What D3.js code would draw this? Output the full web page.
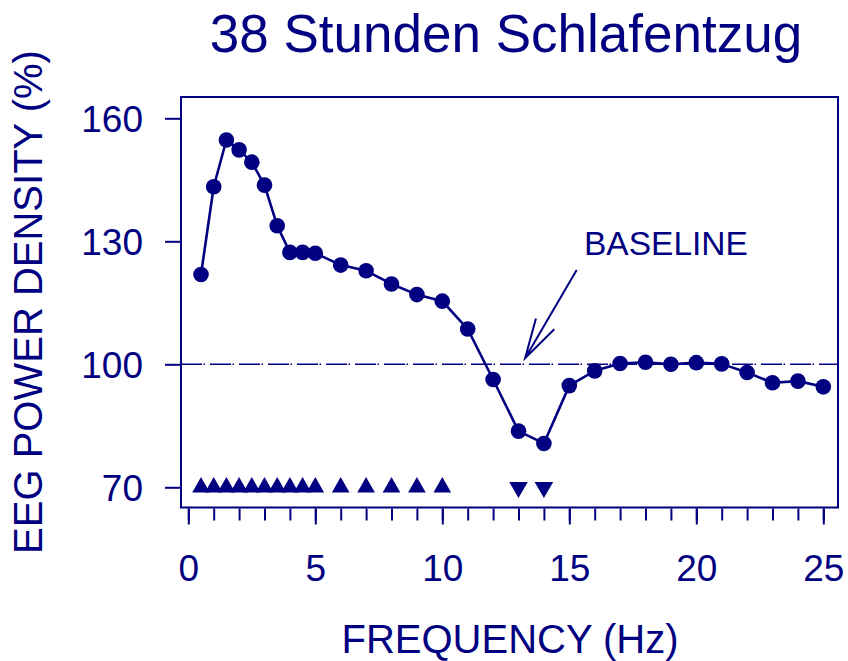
<!DOCTYPE html>
<html>
<head>
<meta charset="utf-8">
<script src="https://cdn.jsdelivr.net/npm/d3@7"></script>
<style>
  html, body { margin: 0; padding: 0; background: #fff; }
  svg { display: block; font-family: "Liberation Sans", Arial, Helvetica, sans-serif; }
</style>
</head>
<body>
<svg id="chart" width="848" height="661"></svg>
<script>
// Spectral EEG power after 38 h of sleep deprivation, relative to baseline (=100 %)
const frequencies = [0.5, 1, 1.5, 2, 2.5, 3, 3.5, 4, 4.5, 5,
                     6, 7, 8, 9, 10, 11, 12, 13, 14, 15,
                     16, 17, 18, 19, 20, 21, 22, 23, 24, 25];
const powerDensity = [121.9, 143.3, 154.7, 152.3, 149.3, 143.7, 133.8, 127.3, 127.3, 127.1,
                      124.2, 122.8, 119.6, 117.0, 115.4, 108.6, 96.3, 83.7, 80.7, 94.8,
                      98.4, 100.2, 100.5, 100.0, 100.4, 100.1, 98.0, 95.5, 95.9, 94.5];
// Frequency bins with significant increase (up) or decrease (down)
const sigIncrease = [0.5, 1, 1.5, 2, 2.5, 3, 3.5, 4, 4.5, 5, 6, 7, 8, 9, 10];
const sigDecrease = [13, 14];
const sigLevel = 70;
const baselineValue = 100;

const xTicks = [0, 5, 10, 15, 20, 25];
const xMinorTicks = d3.range(0, 26, 1);
const yTicks = [70, 100, 130, 160];

const titleText = "38 Stunden Schlafentzug";
const xLabel = "FREQUENCY (Hz)";
const yLabel = "EEG POWER DENSITY (%)";
const noteText = "BASELINE";

const ink = "#000080";
const svg = d3.select("#chart");

// plot frame in pixels
const frame = { left: 181, right: 838, top: 97, bottom: 507.5 };

const x = d3.scaleLinear().domain([0, 25]).range([188.3, 823.3]);
const y = d3.scaleLinear().domain([70, 160]).range([487.3, 118.3]);

// frame
svg.append("rect")
  .attr("x", frame.left).attr("y", frame.top)
  .attr("width", frame.right - frame.left)
  .attr("height", frame.bottom - frame.top)
  .attr("fill", "none").attr("stroke", ink).attr("stroke-width", 2);

// x axis ticks and labels
const xAxisG = svg.append("g").attr("transform", `translate(0,${frame.bottom + 1})`);
xAxisG.call(d3.axisBottom(x).tickValues(xMinorTicks).tickSize(12).tickFormat(""))
  .call(g => g.select(".domain").remove())
  .call(g => g.selectAll("line").attr("stroke", ink).attr("stroke-width", 2));
xAxisG.append("g")
  .call(d3.axisBottom(x).tickValues(xTicks).tickSize(16).tickPadding(30).tickFormat(d3.format("d")))
  .call(g => g.select(".domain").remove())
  .call(g => g.selectAll("line").attr("stroke", ink).attr("stroke-width", 2))
  .call(g => g.selectAll("text")
    .attr("fill", ink).attr("font-size", 37)
    .attr("font-family", "'Liberation Sans', Arial, sans-serif"));

// y axis ticks and labels
const yAxisG = svg.append("g").attr("transform", `translate(${frame.left - 1},0)`);
yAxisG.call(d3.axisLeft(y).tickValues(yTicks).tickSize(15).tickPadding(22).tickFormat(d3.format("d")))
  .call(g => g.select(".domain").remove())
  .call(g => g.selectAll("line").attr("stroke", ink).attr("stroke-width", 2))
  .call(g => g.selectAll("text")
    .attr("fill", ink).attr("font-size", 37).attr("dy", "0.36em")
    .attr("font-family", "'Liberation Sans', Arial, sans-serif"));

// baseline reference (dash-dot)
svg.append("line")
  .attr("x1", frame.left).attr("x2", frame.right)
  .attr("y1", y(baselineValue)).attr("y2", y(baselineValue))
  .attr("stroke", ink).attr("stroke-width", 1.6)
  .attr("stroke-dasharray", "21,1.5,1.5,5");

// data line
const line = d3.line().x((d, i) => x(frequencies[i])).y(d => y(d));
svg.append("path")
  .datum(powerDensity)
  .attr("d", line)
  .attr("fill", "none").attr("stroke", ink).attr("stroke-width", 2.6)
  .attr("stroke-linejoin", "round");

// data points
svg.append("g").selectAll("circle")
  .data(powerDensity)
  .join("circle")
  .attr("cx", (d, i) => x(frequencies[i]))
  .attr("cy", d => y(d))
  .attr("r", 7.8)
  .attr("fill", ink);

// significance markers
const tri = d3.symbol().type(d3.symbolTriangle).size(135);
svg.append("g").selectAll("path")
  .data(sigIncrease)
  .join("path")
  .attr("d", tri)
  .attr("transform", d => `translate(${x(d)},${y(sigLevel)})`)
  .attr("fill", ink);
const triDown = d3.symbol().type(d3.symbolTriangle).size(150);
svg.append("g").selectAll("path")
  .data(sigDecrease)
  .join("path")
  .attr("d", triDown)
  .attr("transform", d => `translate(${x(d)},${y(sigLevel)}) rotate(180)`)
  .attr("fill", ink);

// annotation arrow pointing at the baseline
const tail = [x(15.29), y(123)];
const tip = [x(13.26), y(101.5)];
const back = Math.atan2(tail[1] - tip[1], tail[0] - tip[0]);
const headLen = 41, headAng = 15 * Math.PI / 180;
const arrow = d3.path();
arrow.moveTo(tail[0], tail[1]);
arrow.lineTo(tip[0], tip[1]);
arrow.moveTo(tip[0] + headLen * Math.cos(back - headAng), tip[1] + headLen * Math.sin(back - headAng));
arrow.lineTo(tip[0], tip[1]);
arrow.lineTo(tip[0] + headLen * Math.cos(back + headAng), tip[1] + headLen * Math.sin(back + headAng));
svg.append("path")
  .attr("d", arrow.toString())
  .attr("fill", "none").attr("stroke", ink).attr("stroke-width", 2);

svg.append("text")
  .attr("x", 584).attr("y", 255)
  .attr("fill", ink).attr("font-size", 33.5)
  .text(noteText);

// title and axis titles
svg.append("text")
  .attr("x", 506).attr("y", 52)
  .attr("text-anchor", "middle")
  .attr("fill", ink).attr("font-size", 53)
  .text(titleText);

svg.append("text")
  .attr("x", 510).attr("y", 653)
  .attr("text-anchor", "middle")
  .attr("fill", ink).attr("font-size", 40)
  .text(xLabel);

svg.append("text")
  .attr("transform", "translate(42,302) rotate(-90)")
  .attr("text-anchor", "middle")
  .attr("fill", ink).attr("font-size", 40)
  .text(yLabel);
</script>
</body>
</html>
